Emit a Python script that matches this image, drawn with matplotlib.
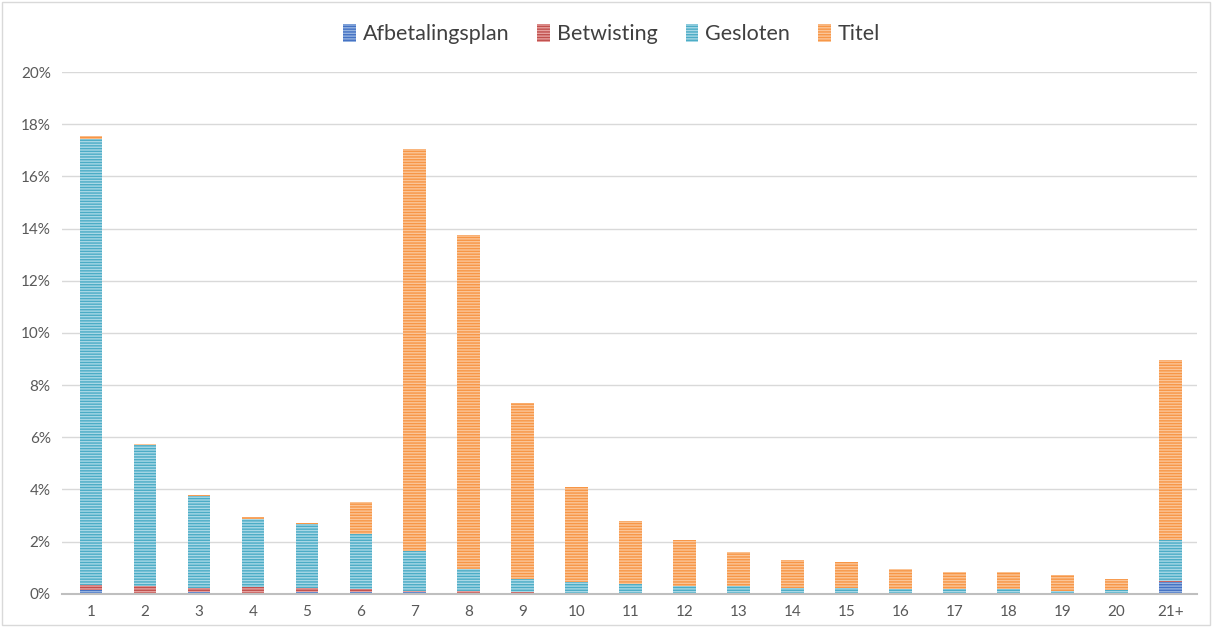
import numpy as np
import matplotlib.pyplot as plt
from matplotlib.patches import Rectangle
from matplotlib.ticker import FuncFormatter

plt.rcParams['font.family'] = ['Lato', 'DejaVu Sans']
plt.rcParams['hatch.linewidth'] = 1.0

dagen = ['1', '2', '3', '4', '5', '6', '7', '8', '9', '10', '11', '12', '13',
         '14', '15', '16', '17', '18', '19', '20', '21+']

# waarden in procenten
afbetalingsplan = [0.15, 0.03, 0.05, 0.03, 0.08, 0.07, 0.05, 0.02, 0.02, 0.01, 0.01, 0.01,
                   0.01, 0.01, 0.01, 0.01, 0.01, 0.01, 0.01, 0.01, 0.45]
betwisting = [0.17, 0.25, 0.18, 0.22, 0.15, 0.10, 0.07, 0.07, 0.06, 0.02, 0.02, 0.02,
              0.02, 0.02, 0.02, 0.01, 0.01, 0.01, 0.01, 0.01, 0.04]
gesloten = [17.11, 5.42, 3.52, 2.63, 2.45, 2.11, 1.53, 0.87, 0.50, 0.44, 0.35, 0.27,
            0.25, 0.21, 0.21, 0.15, 0.15, 0.15, 0.10, 0.11, 1.58]
titel = [0.12, 0.05, 0.05, 0.05, 0.05, 1.22, 15.40, 12.79, 6.72, 3.63, 2.40, 1.75,
         1.32, 1.07, 0.97, 0.79, 0.68, 0.66, 0.61, 0.44, 6.90]

series = [
    ('Afbetalingsplan', afbetalingsplan, '#95B3E0', '#4472C4'),
    ('Betwisting', betwisting, '#E6A09E', '#C0504D'),
    ('Gesloten', gesloten, '#A8D8E6', '#4BACC6'),
    ('Titel', titel, '#FBC597', '#F79646'),
]

fig = plt.figure(figsize=(12.12, 6.27), dpi=100)
ax = fig.add_axes([0.051, 0.053, 0.937, 0.832])

x = np.arange(len(dagen))
bottom = np.zeros(len(dagen))
for naam, vals, licht, donker in series:
    vals = np.array(vals) / 100
    ax.bar(x, vals, 0.42, bottom=bottom, color=licht, edgecolor=donker,
           linewidth=0, hatch='------', label=naam)
    bottom += vals

ax.set_xlim(-0.54, 20.5)
ax.set_ylim(0, 0.20)
ax.set_yticks(np.arange(0, 0.201, 0.02))
ax.yaxis.set_major_formatter(FuncFormatter(lambda v, p: f'{v*100:.0f}%'))
ax.set_xticks(x)
ax.set_xticklabels(dagen)
ax.tick_params(axis='both', length=0, labelsize=11, colors='#595959', pad=8)
ax.grid(axis='y', color='#D9D9D9', linewidth=1)
ax.set_axisbelow(True)
for s in ['top', 'right', 'left']:
    ax.spines[s].set_visible(False)
ax.spines['bottom'].set_color('#BFBFBF')
ax.spines['bottom'].set_linewidth(1.5)

ax.legend(loc='center', bbox_to_anchor=(0.484, 1.073), ncol=4, frameon=False,
          fontsize=15.5, handlelength=0.6, handleheight=0.9, handletextpad=0.3,
          columnspacing=1.3, labelcolor='#404040')

fig.patches.append(Rectangle((0.002, 0.003), 0.996, 0.994, transform=fig.transFigure,
                             fill=False, edgecolor='#D9D9D9', linewidth=1))

fig.savefig('out.png', dpi=100)
